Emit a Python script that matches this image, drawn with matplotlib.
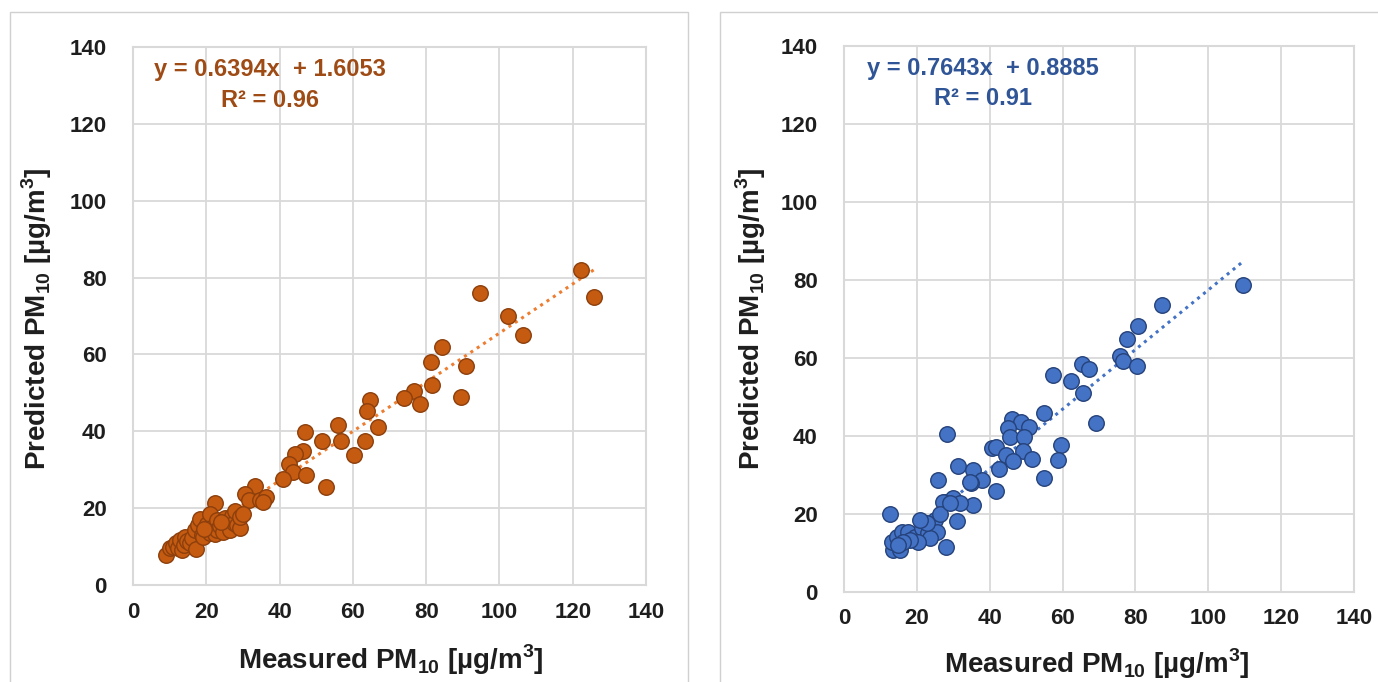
import matplotlib
matplotlib.use("Agg")
import matplotlib.pyplot as plt
from matplotlib.patches import Rectangle
import numpy as np

plt.rcParams['font.family'] = ['Liberation Sans', 'DejaVu Sans']
plt.rcParams['mathtext.fontset'] = 'custom'
plt.rcParams['mathtext.rm'] = 'Liberation Sans'
plt.rcParams['mathtext.bf'] = 'Liberation Sans:bold'

# ---------------- data ----------------
left_x = [122.3, 125.8, 94.8, 102.3, 106.3, 84.3, 81.3, 90.9, 81.7, 89.6, 76.8, 73.9, 78.3,
          64.8, 63.8, 66.8, 55.9, 51.5, 56.9, 63.2, 60.3, 47.0, 46.4, 44.2, 42.6, 43.8, 47.1,
          40.8, 52.6, 33.3, 30.6, 31.7, 34.7, 36.3, 35.5, 22.4,
          9.0, 10.2, 11.0, 11.6, 12.2, 12.8, 13.3, 13.8, 14.2, 14.7, 15.6, 16.0, 17.2, 17.0,
          17.8, 18.3, 18.8, 19.2, 19.7, 20.2, 21.0, 21.0, 21.8, 22.5, 22.8, 22.9, 23.7, 24.5,
          25.2, 25.6, 26.5, 27.0, 27.5, 27.8, 28.5, 29.2, 29.2, 30.1, 19.5, 24.0]
left_y = [82.1, 75.0, 76.1, 70.0, 65.0, 62.0, 58.0, 57.0, 52.0, 49.0, 50.6, 48.6, 47.2,
          48.2, 45.3, 41.2, 41.6, 37.6, 37.4, 37.5, 33.7, 39.8, 35.0, 34.0, 31.5, 29.3, 28.5,
          27.6, 25.4, 25.8, 23.8, 22.1, 22.0, 22.8, 21.6, 21.3,
          7.8, 9.5, 10.0, 10.8, 9.5, 11.7, 9.2, 10.5, 12.5, 11.5, 10.8, 12.2, 9.3, 14.2,
          15.5, 17.2, 13.0, 12.6, 14.8, 16.0, 13.5, 18.6, 15.0, 13.2, 16.9, 14.3, 15.3, 13.8,
          17.5, 16.2, 14.3, 18.0, 16.1, 19.2, 15.5, 14.8, 17.8, 18.4, 14.5, 16.5]

right_x = [109.6, 87.3, 80.7, 77.8, 75.9, 76.5, 80.3, 65.2, 67.3, 57.4, 62.2, 65.7, 69.1,
           59.7, 54.9, 46.0, 48.5, 50.9, 45.1, 45.5, 49.5, 28.3, 40.5, 41.6, 58.8, 44.4,
           49.0, 46.3, 51.5, 42.6, 54.9, 31.4, 35.5, 37.8, 34.8, 25.9, 41.7, 27.7, 30.0,
           35.5, 12.6, 34.6, 30.9, 27.2, 31.8, 28.0, 13.5, 15.4, 13.1, 14.5, 15.8, 17.6,
           19.5, 21.3, 23.1, 25.0, 26.3, 25.4, 23.6, 20.4, 18.1, 16.3, 14.9, 29.1, 22.7, 20.9]
right_y = [78.6, 73.5, 68.1, 64.7, 60.4, 59.2, 57.9, 58.3, 57.1, 55.5, 53.9, 51.0, 43.3,
           37.6, 45.7, 44.2, 43.5, 42.1, 41.8, 39.5, 39.5, 40.4, 36.9, 37.0, 33.7, 35.0,
           36.1, 33.5, 34.0, 31.3, 29.2, 32.3, 31.2, 28.6, 27.9, 28.6, 25.8, 23.0, 23.9,
           22.2, 19.9, 28.2, 18.1, 23.0, 22.6, 11.5, 10.6, 10.6, 12.8, 14.1, 15.3, 15.3,
           14.1, 16.2, 14.9, 18.3, 20.0, 15.3, 13.6, 12.8, 13.2, 12.8, 11.9, 22.6, 17.5, 18.3]

left_fit = (0.6394, 1.6053)
right_fit = (0.7643, 0.8885)
left_eq = ["y = 0.6394x  + 1.6053", "R² = 0.96"]
right_eq = ["y = 0.7643x  + 0.8885", "R² = 0.91"]

ticks = [0, 20, 40, 60, 80, 100, 120, 140]
xlabel = r'Measured PM$_{\mathbf{10}}$ [µg/m$^{\mathbf{3}}$]'
ylabel = r'Predicted PM$_{\mathbf{10}}$ [µg/m$^{\mathbf{3}}$]'

# ---------------- figure ----------------
fig = plt.figure(figsize=(13.78, 6.82), dpi=100)

# panel frames
fig.patches.append(Rectangle((10 / 1378, -0.05), (688 - 10) / 1378, (682 - 12) / 682 + 0.05,
                             transform=fig.transFigure, fill=False, edgecolor='#D0D0D0', lw=1.0))
fig.patches.append(Rectangle((720 / 1378, -0.05), (1390 - 720) / 1378, (682 - 12) / 682 + 0.05,
                             transform=fig.transFigure, fill=False, edgecolor='#D0D0D0', lw=1.0))

ax1 = fig.add_axes([133 / 1378, (682 - 585) / 682, (646 - 133) / 1378, (585 - 47) / 682])
ax2 = fig.add_axes([844 / 1378, (682 - 591.5) / 682, (1354 - 844) / 1378, (591.5 - 45.5) / 682])

grid_c = '#D9D9D9'
txt_c = '#1E1E1E'


def style(ax, xl, yl):
    ax.set_xlim(0, 140)
    ax.set_ylim(0, 140)
    ax.set_xticks(ticks)
    ax.set_yticks(ticks)
    ax.grid(True, color=grid_c, lw=1.3, zorder=0)
    ax.set_axisbelow(True)
    for s in ax.spines.values():
        s.set_color(grid_c)
        s.set_linewidth(1.5)
    ax.tick_params(length=0, labelsize=16, colors=txt_c)
    ax.tick_params(axis='y', pad=19)
    ax.tick_params(axis='x', pad=12)
    for lab in ax.get_xticklabels() + ax.get_yticklabels():
        lab.set_fontweight('bold')
    ax.set_xlabel(xlabel, fontsize=20, fontweight='bold', color=txt_c)
    ax.set_ylabel(ylabel, fontsize=20, fontweight='bold', color=txt_c)
    ax.xaxis.label.set_va('center')
    ax.yaxis.label.set_va('center')
    ax.xaxis.set_label_coords(*xl)
    ax.yaxis.set_label_coords(*yl)


style(ax1, (0.503, -0.139), (-0.187, 0.495))
style(ax2, (0.496, -0.133), (-0.182, 0.5))

eq_fs = 17

# left
ax1.scatter(left_x, left_y, s=125, c='#C55A11', edgecolors='#8C3F0C', linewidths=1.0, zorder=3)
lx = np.array([min(left_x), max(left_x)])
ax1.plot(lx, left_fit[0] * lx + left_fit[1], ls=(0, (1, 1.5)), lw=2.2, color='#ED7D31', zorder=2)
ax1.text(37.3, 134.1, left_eq[0], ha='center', va='center', fontsize=eq_fs, fontweight='bold',
         color='#9E4B15', zorder=4)
ax1.text(37.3, 126.2, left_eq[1], ha='center', va='center', fontsize=eq_fs, fontweight='bold',
         color='#9E4B15', zorder=4)

# right
ax2.scatter(right_x, right_y, s=125, c='#4472C4', edgecolors='#25427A', linewidths=1.0, zorder=3)
rx = np.array([min(right_x), max(right_x)])
ax2.plot(rx, right_fit[0] * rx + right_fit[1], ls=(0, (1, 1.5)), lw=2.2, color='#4472C4', zorder=2)
ax2.text(38.1, 134.0, right_eq[0], ha='center', va='center', fontsize=eq_fs, fontweight='bold',
         color='#2F5597', zorder=4)
ax2.text(38.1, 126.4, right_eq[1], ha='center', va='center', fontsize=eq_fs, fontweight='bold',
         color='#2F5597', zorder=4)

fig.savefig('out.png', dpi=100)
